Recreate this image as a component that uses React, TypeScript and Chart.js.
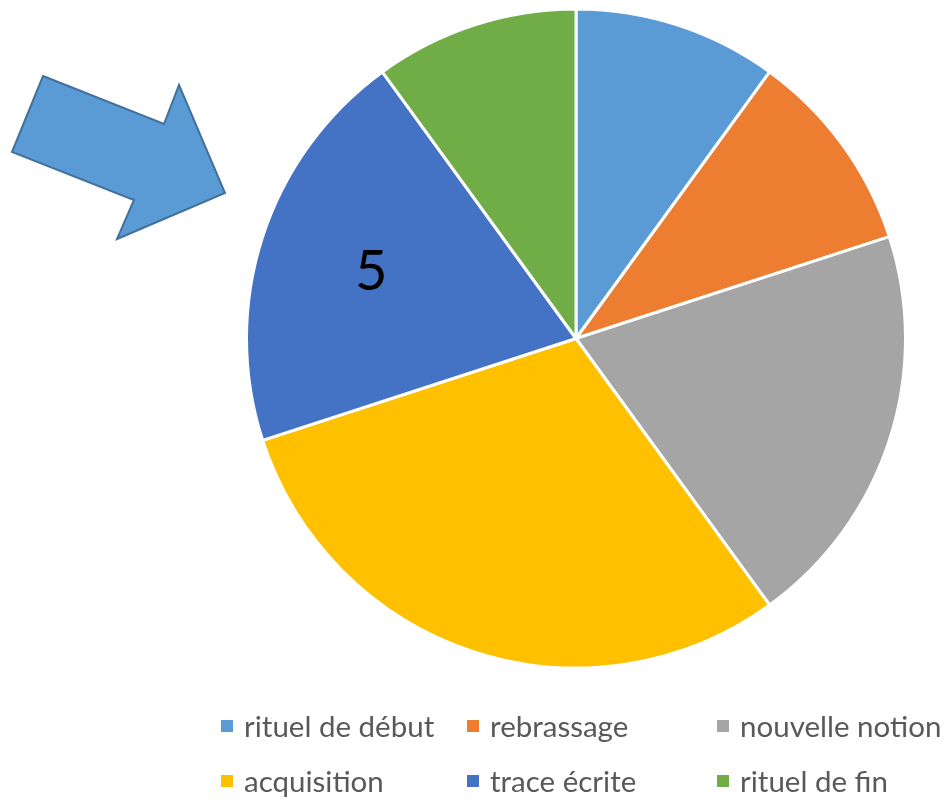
import React, { useEffect, useRef } from "react";
import { Chart, registerables } from "chart.js";

Chart.register(...registerables);

const categories = ["rituel de début", "rebrassage", "nouvelle notion", "acquisition", "trace écrite", "rituel de fin"];
const values = [1, 1, 2, 3, 2, 1];
const colors = ["#5B9BD5", "#ED7D31", "#A5A5A5", "#FFC000", "#4472C4", "#70AD47"];
const highlightIndex = 4;
const highlightLabel = "5";

const FONT = "Lato, 'Open Sans', sans-serif";

const legendPlugin = {
  id: "gridLegend",
  afterDraw(chart: any) {
    const ctx = chart.ctx;
    const colX = [221, 467, 717];
    const rowY = [726, 781];
    const labels = chart.data.labels as string[];
    const bg = chart.data.datasets[0].backgroundColor as string[];
    ctx.save();
    ctx.font = `29.5px ${FONT}`;
    ctx.textBaseline = "middle";
    ctx.textAlign = "left";
    labels.forEach((lab, i) => {
      const c = i % 3;
      const r = Math.floor(i / 3);
      const x = colX[c];
      const y = rowY[r];
      ctx.fillStyle = bg[i];
      ctx.fillRect(x, y - 6, 12, 12);
      ctx.fillStyle = "#595959";
      ctx.fillText(lab, x + 23, y + 1);
    });
    ctx.restore();
  },
};

const annotationPlugin = {
  id: "annot",
  afterDraw(chart: any) {
    const ctx = chart.ctx;
    const meta = chart.getDatasetMeta(0);
    const arc = meta.data[highlightIndex] as any;
    if (arc) {
      const mid = (arc.startAngle + arc.endAngle) / 2;
      const r = arc.outerRadius * 0.65;
      const x = arc.x + Math.cos(mid) * r;
      const y = arc.y + Math.sin(mid) * r;
      ctx.save();
      ctx.font = `56px ${FONT}`;
      ctx.fillStyle = "#000000";
      ctx.textAlign = "center";
      ctx.textBaseline = "middle";
      ctx.fillText(highlightLabel, x - 1, y);
      ctx.restore();
    }
    // block arrow pointing toward the highlighted slice
    const pts = [
      [43, 76], [164, 124], [179, 85], [225, 193], [117, 239], [134, 200], [12, 152],
    ];
    ctx.save();
    ctx.beginPath();
    pts.forEach((p, i) => (i === 0 ? ctx.moveTo(p[0], p[1]) : ctx.lineTo(p[0], p[1])));
    ctx.closePath();
    ctx.fillStyle = "#5B9BD5";
    ctx.fill();
    ctx.lineWidth = 2;
    ctx.strokeStyle = "#41719C";
    ctx.lineJoin = "miter";
    ctx.stroke();
    ctx.restore();
  },
};

export default function App() {
  const ref = useRef<HTMLCanvasElement>(null);
  useEffect(() => {
    if (!ref.current) return;
    const chart = new Chart(ref.current, {
      type: "pie",
      data: {
        labels: categories,
        datasets: [
          {
            data: values,
            backgroundColor: colors,
            borderColor: "#FFFFFF",
            borderWidth: 3,
          },
        ],
      },
      options: {
        responsive: false,
        animation: false,
        layout: { padding: { left: 245, right: 40, top: 7, bottom: 131 } },
        plugins: {
          legend: { display: false },
          tooltip: { enabled: false },
        },
      },
      plugins: [legendPlugin, annotationPlugin],
    });
    return () => chart.destroy();
  }, []);
  return (
    <div style={{ position: "fixed", left: 0, top: 0, width: 947, height: 801, background: "#FFFFFF" }}>
      <canvas ref={ref} width={947} height={801} />
    </div>
  );
}
